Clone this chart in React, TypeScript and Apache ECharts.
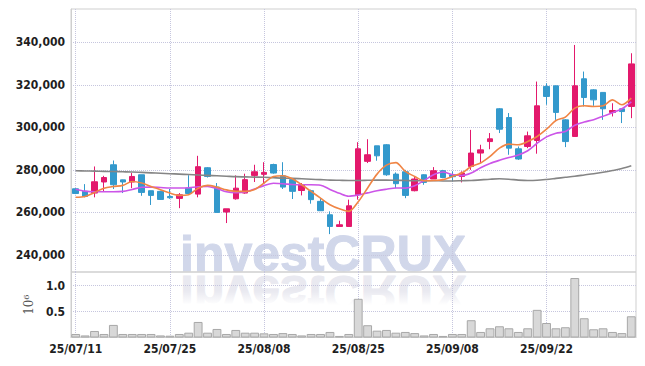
import React, { useEffect, useRef } from "react";
import * as echarts from "echarts";

const dates = [
  "25/07/11", "25/07/14", "25/07/15", "25/07/16", "25/07/17", "25/07/18", "25/07/21", "25/07/22", "25/07/23", "25/07/24",
  "25/07/25", "25/07/28", "25/07/29", "25/07/30", "25/07/31", "25/08/01", "25/08/04", "25/08/05", "25/08/06", "25/08/07",
  "25/08/08", "25/08/11", "25/08/12", "25/08/13", "25/08/14", "25/08/18", "25/08/19", "25/08/20", "25/08/21", "25/08/22",
  "25/08/25", "25/08/26", "25/08/27", "25/08/28", "25/08/29", "25/09/01", "25/09/02", "25/09/03", "25/09/04", "25/09/05",
  "25/09/08", "25/09/09", "25/09/10", "25/09/11", "25/09/12", "25/09/15", "25/09/16", "25/09/17", "25/09/18", "25/09/19",
  "25/09/22", "25/09/23", "25/09/24", "25/09/25", "25/09/26", "25/09/29", "25/09/30", "25/10/01", "25/10/02", "25/10/10",
];

const opens = [
  271100, 269900, 269100, 274300, 282400, 275300, 274300, 277700, 270200, 269900,
  267500, 266600, 271400, 268600, 281000, 271900, 260200, 266400, 269100, 277400,
  277900, 282500, 277200, 275400, 270300, 270200, 265200, 258900, 253400, 253400,
  268300, 284000, 291300, 291800, 278000, 279100, 270200, 277700, 275700, 279600,
  277700, 276900, 281600, 287900, 293300, 308700, 304600, 289900, 291000, 293800,
  319200, 319500, 303500, 295700, 322800, 317600, 316400, 307000, 308700, 309800,
];
const closes = [
  268900, 267500, 274400, 276400, 273000, 274300, 276900, 269400, 268000, 266100,
  266900, 268300, 268900, 281500, 276900, 260000, 261700, 271400, 275400, 279100,
  278800, 278500, 271900, 269900, 273000, 266000, 260800, 253400, 254200, 263100,
  289900, 287100, 286600, 277700, 273500, 268000, 275700, 274100, 279600, 276400,
  276800, 278500, 287900, 289400, 294600, 299100, 290200, 285100, 296000, 310100,
  314500, 307000, 293300, 319500, 314000, 312900, 308700, 307900, 307400, 329800,
];
const lows = [
  268600, 267100, 267100, 269900, 271000, 269100, 271400, 267800, 263500, 266000,
  266400, 262000, 268900, 267100, 276400, 260000, 255000, 266000, 268800, 274300,
  273800, 278200, 271000, 266300, 268000, 264100, 260800, 249800, 253400, 253400,
  266000, 283200, 284300, 277200, 271400, 266700, 269900, 273000, 275700, 276100,
  274600, 274100, 280000, 283200, 289700, 297300, 287100, 284700, 290200, 287600,
  310600, 303500, 290700, 295700, 309800, 310100, 303500, 305100, 302000, 304300,
];
const highs = [
  271400, 273300, 281600, 277200, 284400, 275400, 278500, 277700, 270200, 270200,
  271000, 269100, 277500, 286600, 281300, 273800, 261700, 277400, 278200, 282400,
  283600, 282900, 283600, 275600, 273800, 270700, 266600, 260500, 256100, 266000,
  293000, 294400, 291300, 292100, 278800, 280000, 276900, 277900, 281300, 280000,
  279300, 279300, 298800, 291800, 297300, 309000, 306700, 291000, 298000, 321500,
  320700, 319500, 303800, 338700, 326200, 317900, 316400, 311300, 308700, 334800,
];

const ma5 = [
  267100, 267500, 269400, 271400, 272200, 272700, 274500, 273800, 272200, 270700,
  269100, 268000, 268300, 271400, 272700, 271900, 270600, 269900, 269900, 270800,
  273800, 276900, 277200, 275800, 273000, 269900, 266700, 263600, 261700, 260500,
  265000, 271500, 278000, 282200, 283400, 279300, 276900, 274900, 275000, 275400,
  276900, 278500, 281600, 283200, 286300, 290200, 292100, 291800, 293300, 295700,
  299100, 303200, 304800, 309000, 310100, 309800, 310100, 312900, 310600, 313700,
];
const ma10 = [
  270900, 270000, 269700, 269700, 269700, 269900, 270800, 271800, 271900, 271700,
  271500, 271500, 271600, 272100, 272200, 271200, 269700, 269300, 269600, 271000,
  272600, 273700, 273500, 273100, 273000, 273000, 272800, 270800, 269000, 267600,
  268200, 269200, 270200, 270900, 271500, 271400, 272500, 275000, 277700, 279000,
  277800, 277300, 278500, 281000, 283000, 284500, 285800, 287000, 289000, 292500,
  295500, 297200, 298000, 301000, 302500, 303600, 305200, 306800, 308700, 312000,
];
const maLong = [
  279600, 279500, 279400, 279300, 279200, 279100, 279000, 278800, 278600, 278400,
  278200, 278000, 277800, 277600, 277400, 277200, 277000, 276800, 276700, 276600,
  276500, 276300, 276100, 276000, 275800, 275600, 275400, 275200, 275100, 275000,
  275000, 275100, 275200, 275200, 275100, 275000, 274900, 274900, 274900, 274800,
  274800, 274900, 275000, 275300, 275600, 275800, 275600, 275200, 275000, 275100,
  275500, 276000, 276500, 277000, 277600, 278200, 278900, 279700, 280600, 281900,
];

const volumes = [
  68000, 40000, 126000, 68000, 243000, 68000, 68000, 68000, 68000, 40000,
  35000, 68000, 93000, 300000, 93000, 165000, 68000, 146000, 93000, 93000,
  80000, 68000, 85000, 68000, 40000, 68000, 68000, 107000, 30000, 68000,
  747000, 237000, 132000, 146000, 93000, 107000, 85000, 40000, 68000, 30000,
  68000, 68000, 334000, 107000, 178000, 217000, 178000, 107000, 178000, 534000,
  280000, 178000, 198000, 1149000, 372000, 159000, 178000, 107000, 85000, 410000,
];

const priceTicks = [240000, 260000, 280000, 300000, 320000, 340000];
const volumeTicks = [500000, 1000000];

const UP = "#e3196c";
const DOWN = "#3399cc";
const GRID_DOT = "#c6c6de";
const BORDER = "#cfcfcf";
const LABEL_FONT = {
  fontFamily: "'DejaVu Sans Condensed', 'DejaVu Sans', sans-serif",
  fontWeight: "bold" as const,
  fontSize: 12,
  color: "#1e1e1e",
};
const WM_STYLE = {
  text: "investCRUX",
  x: 0,
  y: -18,
  fontSize: 50,
  fontWeight: "bold",
  fontFamily: "Liberation Sans",
  textAlign: "left",
  textVerticalAlign: "middle",
};

export default function App() {
  const ref = useRef<HTMLDivElement>(null);

  useEffect(() => {
    if (!ref.current) return;
    const chart = echarts.init(ref.current, undefined, { renderer: "svg" });
    const candleData = dates.map((_, i) => [opens[i], closes[i], lows[i], highs[i]]);
    const t = "transparent";

    const option: any = {
      animation: false,
      backgroundColor: "#ffffff",
      graphic: [
        {
          type: "text",
          z: -10,
          silent: true,
          x: 180,
          y: 271.5,
          style: { ...WM_STYLE, fill: "#d1d7ea", stroke: "#d1d7ea", lineWidth: 1 },
        },
        {
          type: "text",
          z: -10,
          silent: true,
          x: 180,
          y: 274.5,
          scaleY: -1,
          style: { ...WM_STYLE, fill: "#e9e9f0", stroke: "#e9e9f0", lineWidth: 0.8 },
        },
        {
          type: "rect",
          z: -9,
          silent: true,
          shape: { x: 172, y: 291, width: 300, height: 47 },
          style: {
            fill: new echarts.graphic.LinearGradient(0, 0, 0, 1, [
              { offset: 0, color: "rgba(255,255,255,0)" },
              { offset: 0.3, color: "rgba(255,255,255,1)" },
              { offset: 1, color: "rgba(255,255,255,1)" },
            ]),
          },
        },
      ],
      grid: [
        { left: 71, right: 9, top: 9, height: 263, show: true, borderColor: BORDER, borderWidth: 1 },
        { left: 71, right: 9, top: 272, height: 65.5, show: true, borderColor: BORDER, borderWidth: 1 },
      ],
      xAxis: [
        {
          type: "category",
          gridIndex: 0,
          data: dates,
          boundaryGap: true,
          axisLine: { show: false },
          axisTick: { show: false },
          axisLabel: { show: false },
          splitLine: {
            show: true,
            interval: 9,
            alignWithLabel: true,
            lineStyle: { type: "dotted", color: GRID_DOT, width: 1 },
          },
        },
        {
          type: "category",
          gridIndex: 1,
          data: dates,
          boundaryGap: true,
          axisLine: { show: true, lineStyle: { color: BORDER } },
          axisTick: { show: false },
          axisLabel: { interval: 9, margin: 5, ...LABEL_FONT },
          splitLine: {
            show: true,
            interval: 9,
            alignWithLabel: true,
            lineStyle: { type: "dotted", color: GRID_DOT, width: 1 },
          },
        },
      ],
      yAxis: [
        {
          type: "value",
          gridIndex: 0,
          min: 232000,
          max: 355600,
          interval: 4000,
          axisLine: { show: true, lineStyle: { color: BORDER } },
          axisTick: { show: false },
          axisLabel: {
            margin: 6,
            ...LABEL_FONT,
            formatter: (v: number) => (priceTicks.includes(v) ? v.toLocaleString("en-US") : ""),
          },
          splitLine: {
            show: true,
            lineStyle: { type: "dotted", width: 1, color: [t, t, GRID_DOT, t, t] },
          },
        },
        {
          type: "value",
          gridIndex: 1,
          min: 0,
          max: 1265000,
          interval: 500000,
          name: "10\u2076",
          nameLocation: "middle",
          nameGap: 24,
          nameRotate: 90,
          nameTextStyle: { fontFamily: "'DejaVu Serif', serif", fontSize: 12, color: "#555" },
          axisLine: { show: true, lineStyle: { color: BORDER } },
          axisTick: { show: false },
          axisLabel: {
            margin: 6,
            ...LABEL_FONT,
            formatter: (v: number) => (volumeTicks.includes(v) ? (v / 1e6).toFixed(1) : ""),
          },
          splitLine: {
            show: true,
            lineStyle: { type: "dotted", width: 1, color: [t, GRID_DOT, GRID_DOT, t] },
          },
        },
      ],
      series: [
        {
          type: "candlestick",
          xAxisIndex: 0,
          yAxisIndex: 0,
          data: candleData,
          barWidth: 6,
          itemStyle: {
            color: UP,
            color0: DOWN,
            borderColor: UP,
            borderColor0: DOWN,
            borderWidth: 1,
          },
          z: 3,
        },
        {
          type: "line",
          xAxisIndex: 0,
          yAxisIndex: 0,
          data: maLong,
          smooth: 0.3,
          showSymbol: false,
          lineStyle: { color: "#858585", width: 1.6 },
          z: 4,
        },
        {
          type: "line",
          xAxisIndex: 0,
          yAxisIndex: 0,
          data: ma10,
          smooth: 0.3,
          showSymbol: false,
          lineStyle: { color: "#cc55e8", width: 1.6 },
          z: 4,
        },
        {
          type: "line",
          xAxisIndex: 0,
          yAxisIndex: 0,
          data: ma5,
          smooth: 0.3,
          showSymbol: false,
          lineStyle: { color: "#f08545", width: 1.6 },
          z: 4,
        },
        {
          type: "bar",
          xAxisIndex: 1,
          yAxisIndex: 1,
          data: volumes,
          barCategoryGap: "6%",
          itemStyle: { color: "#d8d8d8", borderColor: "#a8a8a8", borderWidth: 1 },
        },
      ],
    };

    chart.setOption(option);
    return () => chart.dispose();
  }, []);

  return (
    <div
      ref={ref}
      style={{ position: "fixed", left: 0, top: 0, width: 645, height: 366, background: "#fff" }}
    />
  );
}
